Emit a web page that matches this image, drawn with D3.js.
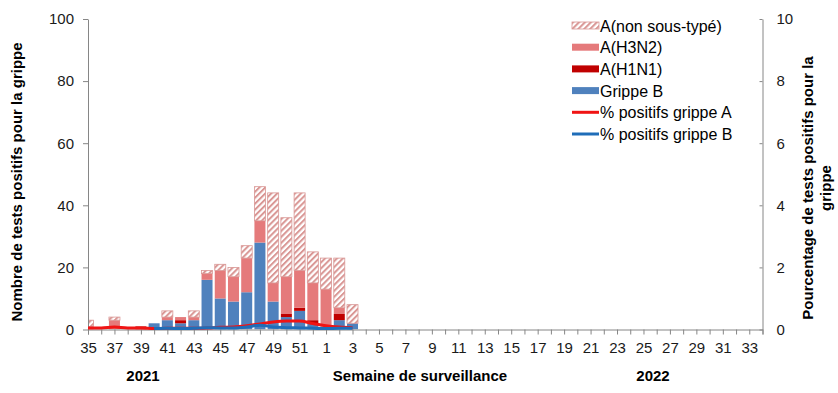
<!DOCTYPE html>
<html><head><meta charset="utf-8">
<script src="https://cdn.jsdelivr.net/npm/d3@7"></script>
<style>
html,body{margin:0;padding:0;background:#fff;}
svg{display:block;font-family:"Liberation Sans",Arial,sans-serif;}
</style></head>
<body><svg id="c" width="838" height="393"></svg>
<script>
// Week categories (2021 week 35 -> 2022 week 34)
const weeks = [35,36,37,38,39,40,41,42,43,44,45,46,47,48,49,50,51,52,1,2,3,4,5,6,7,8,9,10,11,12,13,14,15,16,17,18,19,20,21,22,23,24,25,26,27,28,29,30,31,32,33,34];
// Series (counts) for weeks 35 .. 3
const grippeB     = [0,0,0,0,0,2,3,2,3,16,10,9,12,28,9,4,6,2,1,3,2];
const h1n1        = [0,0,0,0,1,0,0,1,0,0,0,0,0,0,0,1,1,1,0,2,0];
const h3n2        = [1,0,3,0,0,0,1,1,1,2,9,8,11,7,6,12,12,12,12,2,0];
const nonSousType = [2,0,1,0,0,0,2,0,2,1,2,3,4,11,29,19,25,10,10,16,6];
// Percentages (right axis)
const pctA = [0.05,0.05,0.08,0.05,0.05,0.03,0.04,0.04,0.04,0.05,0.07,0.08,0.12,0.18,0.24,0.27,0.27,0.19,0.12,0.08,0.06];
const pctB = [null,null,null,null,null,0.03,0.04,0.03,0.04,0.06,0.05,0.05,0.08,0.14,0.08,0.06,0.05,0.04,0.03,0.04,0.04];
const leftTicks = [0,20,40,60,80,100];
const rightTicks = [0,2,4,6,8,10];

const svg = d3.select("#c");
const X0 = 88, X1 = 762.5, Y0 = 329.5, Y1 = 19;
const x = d3.scalePoint().domain(weeks).range([X0, X1]).padding(0);
const y = d3.scaleLinear().domain([0,100]).range([Y0, Y1]);
const y2 = d3.scaleLinear().domain([0,10]).range([Y0, Y1]);
const bw = 11;

const col = {nst:"#D99694", h3:"#E57A7B", h1:"#C00000", b:"#4F81BD", lineA:"#F01414", lineB:"#1F6DB8"};

const defs = svg.append("defs");
const pat = defs.append("pattern").attr("id","hatch").attr("patternUnits","userSpaceOnUse")
  .attr("width",4.2).attr("height",4.2).attr("patternTransform","rotate(45)");
pat.append("rect").attr("width",4.2).attr("height",4.2).attr("fill","#fff");
pat.append("line").attr("x1",1).attr("y1",0).attr("x2",1).attr("y2",4.2)
  .attr("stroke",col.nst).attr("stroke-width",2);
defs.append("clipPath").attr("id","plot").append("rect")
  .attr("x",X0).attr("y",0).attr("width",X1-X0).attr("height",Y0);

// stacked bars
const keys = ["b","h1","h3","nst"];
const rows = grippeB.map((v,i)=>({week:weeks[i], b:v, h1:h1n1[i], h3:h3n2[i], nst:nonSousType[i]}));
const stack = d3.stack().keys(keys)(rows);
const gBars = svg.append("g").attr("clip-path","url(#plot)");
stack.forEach(layer=>{
  const k = layer.key;
  gBars.append("g").selectAll("rect").data(layer.filter(d=>d[1]-d[0]>0)).join("rect")
    .attr("x", d=>x(d.data.week)-bw/2)
    .attr("y", d=>y(d[1]))
    .attr("width", bw)
    .attr("height", d=>y(d[0])-y(d[1]))
    .attr("fill", k==="nst" ? "url(#hatch)" : col[k])
    .attr("stroke", k==="nst" ? col.nst : "none")
    .attr("stroke-width", 0.8);
});

// axes
const axisColor = "#868686";
const gx = svg.append("g").attr("transform",`translate(0,${Y0})`)
  .call(d3.axisBottom(x).tickSize(5).tickFormat((d,i)=> i%2===0 ? d : ""));
gx.select(".domain").attr("stroke",axisColor);
gx.selectAll(".tick line").attr("stroke",axisColor);
gx.selectAll(".tick text").attr("font-size","15px").attr("fill","#1a1a1a").attr("dy","1.05em");

const gy = svg.append("g").attr("transform",`translate(${X0},0)`)
  .call(d3.axisLeft(y).tickValues(leftTicks).tickSize(5).tickPadding(9).tickSizeOuter(0));
gy.select(".domain").attr("stroke",axisColor);
gy.selectAll(".tick line").attr("stroke",axisColor);
gy.selectAll(".tick text").attr("font-size","15px").attr("fill","#1a1a1a");

const gy2 = svg.append("g").attr("transform",`translate(${X1},0)`)
  .call(d3.axisRight(y2).tickValues(rightTicks).tickSize(-3).tickPadding(14).tickSizeOuter(0));
gy2.select(".domain").attr("stroke",axisColor);
gy2.selectAll(".tick line").attr("stroke",axisColor);
gy2.selectAll(".tick text").attr("font-size","15px").attr("fill","#1a1a1a");

// lines
const lineA = d3.line().defined(d=>d!=null).x((d,i)=>x(weeks[i])).y(d=>y2(d)).curve(d3.curveMonotoneX);
svg.append("path").attr("d", lineA(pctA)).attr("fill","none").attr("stroke",col.lineA).attr("stroke-width",3);
svg.append("path").attr("d", lineA(pctB)).attr("fill","none").attr("stroke",col.lineB).attr("stroke-width",3);

// titles
svg.append("text").attr("transform","translate(22,182) rotate(-90)").attr("text-anchor","middle")
  .attr("font-size","15px").attr("font-weight","bold").attr("fill","#000")
  .text("Nombre de tests positifs pour la grippe");
const rt = svg.append("text").attr("transform","translate(813,188) rotate(-90)").attr("text-anchor","middle")
  .attr("font-size","15px").attr("font-weight","bold").attr("fill","#000");
rt.append("tspan").attr("x",0).attr("dy",0).text("Pourcentage de tests positifs pour la");
rt.append("tspan").attr("x",0).attr("dy","1.2em").text("grippe");

svg.append("text").attr("x",143).attr("y",381).attr("text-anchor","middle").attr("font-size","15px").attr("font-weight","bold").text("2021");
svg.append("text").attr("x",420).attr("y",381).attr("text-anchor","middle").attr("font-size","15px").attr("font-weight","bold").text("Semaine de surveillance");
svg.append("text").attr("x",653).attr("y",381).attr("text-anchor","middle").attr("font-size","15px").attr("font-weight","bold").text("2022");

// legend
const legend = [
  {label:"A(non sous-typé)", type:"rect", fill:"url(#hatch)", stroke:col.nst},
  {label:"A(H3N2)", type:"rect", fill:col.h3},
  {label:"A(H1N1)", type:"rect", fill:col.h1},
  {label:"Grippe B", type:"rect", fill:col.b},
  {label:"% positifs grippe A", type:"line", stroke:col.lineA},
  {label:"% positifs grippe B", type:"line", stroke:col.lineB}
];
const lg = svg.append("g");
legend.forEach((d,i)=>{
  const cy = 25.5 + i*21.7;
  if(d.type==="rect"){
    lg.append("rect").attr("x",572).attr("y",cy-3.5).attr("width",27).attr("height",7)
      .attr("fill",d.fill).attr("stroke",d.stroke||"none").attr("stroke-width",0.8);
  } else {
    lg.append("line").attr("x1",572).attr("x2",599).attr("y1",cy).attr("y2",cy)
      .attr("stroke",d.stroke).attr("stroke-width",3);
  }
  lg.append("text").attr("x",600).attr("y",cy+6).attr("font-size","16px").attr("fill","#000").text(d.label);
});
</script></body></html>
